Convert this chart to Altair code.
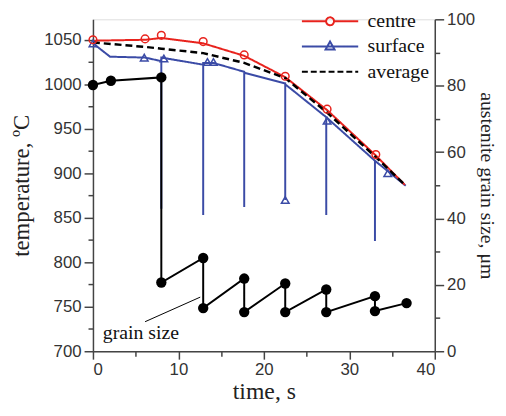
import altair as alt
import pandas as pd

# ---------------- data ----------------
series_names = ["centre", "surface", "average"]
series_colors = ["#e8231d", "#3b4ba6", "#000000"]

centre_t = [0, 6.1, 8.0, 12.9, 17.7, 22.5, 27.4, 33.1, 36.5]
centre_T = [1049, 1050, 1052, 1046, 1032, 1008, 971, 920, 887]
centre_mk_t = [0, 6.1, 8.0, 12.9, 17.7, 22.5, 27.4, 33.1]
centre_mk_T = [1050, 1051, 1055, 1048, 1033, 1009, 972, 921]

surface_t = [0, 2.0, 6.1, 8.0, 8.0, 8.0, 12.9, 12.9, 12.9, 14.1, 17.7, 17.7, 17.7,
             22.5, 22.5, 22.5, 27.3, 27.3, 27.3, 33.0, 33.0, 33.0, 36.6]
surface_T = [1046, 1031, 1030, 1026, 860, 1030, 1022, 853, 1024, 1024, 1014, 862, 1013,
             1001, 870, 1000, 963, 853, 963, 914, 824, 914, 886]
surface_mk_t = [0, 6.0, 8.3, 13.4, 14.1, 22.5, 27.4, 34.5]
surface_mk_T = [1046, 1030, 1029, 1025, 1025, 870, 959, 900]

average_t = [0, 6.1, 8.0, 12.9, 17.7, 22.5, 27.3, 33.0, 36.6]
average_T = [1047, 1042, 1040, 1035, 1024, 1007, 969, 919, 886]

grain_t = [0, 2.1, 8.0, 8.0, 12.9, 12.9, 17.7, 17.7, 22.5, 22.5, 27.3, 27.3, 33.0, 33.0, 36.7]
grain_g = [80.2, 81.5, 82.5, 20.7, 28.1, 13.0, 21.9, 11.8, 20.4, 11.8, 18.6, 11.8, 16.6, 12.1, 14.5]

label_text = ["grain size"]
label_t = [1.15]
label_g = [5.6]
pointer_t = [6.1, 12.55]
pointer_g = [8.9, 16.3]

time_ticks = [0, 5, 10, 15, 20, 25, 30, 35, 40]
temp_ticks = list(range(700, 1051, 25))
grain_ticks = list(range(0, 101, 10))

# ---------------- styling ----------------
SANS = "Liberation Sans"
SERIF = "Liberation Serif"
AX = dict(domainColor="#444", tickColor="#444", domainWidth=1.5, tickWidth=1.5,
          labelColor="#333", labelFont=SANS, labelFontSize=17, titleFont=SERIF,
          titleFontWeight="normal", titleColor="#222", grid=False, format="d")

x_enc = alt.X("t:Q", scale=alt.Scale(domain=[0, 40], nice=False),
              axis=alt.Axis(values=time_ticks, title="time, s", titleFontSize=24,
                            labelExpr="datum.value % 10 === 0 ? datum.label : ''",
                            tickSize={"condition": {"test": "datum.value % 10 === 0", "value": 8}, "value": 5},
                            labelPadding=3, titlePadding=2, **AX))
temp_axis = alt.Axis(values=temp_ticks, title="temperature, ºC", titleFontSize=23,
                     labelExpr="datum.value % 50 === 0 ? datum.label : ''",
                     tickSize={"condition": {"test": "datum.value % 50 === 0", "value": 9}, "value": 5},
                     labelPadding=3, titlePadding=10, **AX)
temp_scale = alt.Scale(domain=[700, 1073], nice=False, zero=False)
grain_axis = alt.Axis(orient="right", values=grain_ticks, title="austenite grain size, μm",
                      titleFontSize=20,
                      labelExpr="datum.value % 20 === 0 ? datum.label : ''",
                      tickSize={"condition": {"test": "datum.value % 20 === 0", "value": 9}, "value": 5},
                      labelPadding=3, titlePadding=2, **AX)
grain_scale = alt.Scale(domain=[0, 100], nice=False)

yT = alt.Y("T:Q", scale=temp_scale, axis=temp_axis)
yG = alt.Y("g:Q", scale=grain_scale, axis=grain_axis)


def df_of(t, v, name):
    return pd.DataFrame({"t": t, name: v, "i": list(range(len(t)))})


def temp_line(t, T, color, dash, width=2):
    return alt.Chart(df_of(t, T, "T")).mark_line(
        color=color, strokeWidth=width, strokeDash=dash).encode(x=x_enc, y=yT, order="i:Q")


def temp_marks(t, T, color, shape):
    return alt.Chart(df_of(t, T, "T")).mark_point(
        color=color, shape=shape, filled=False, size=60, strokeWidth=1.5, opacity=1
    ).encode(x=x_enc, y=yT)


surface_line = temp_line(surface_t, surface_T, series_colors[1], [1, 0])
centre_line = temp_line(centre_t, centre_T, series_colors[0], [1, 0])
average_line = temp_line(average_t, average_T, series_colors[2], [7, 4], 2.5)
surface_pts = temp_marks(surface_mk_t, surface_mk_T, series_colors[1], "triangle-up")
centre_pts = temp_marks(centre_mk_t, centre_mk_T, series_colors[0], "circle")

# legend (built from a scale on the series names)
legend_paths = [
    "M-2.85,0L-0.4,0M0.4,0L2.85,0M-0.4,0A0.4,0.4,0,1,0,0.4,0A0.4,0.4,0,1,0,-0.4,0",
    "M-2.85,0L2.85,0M0,-0.5L0.45,0.3L-0.45,0.3Z",
    "M-2.85,0L2.85,0",
]
legend_dashes = [[1, 0], [1, 0], [6, 3]]
leg = alt.Legend(title=None, orient="none", legendX=229, legendY=-9, symbolSize=400,
                 symbolStrokeWidth=2, labelFont=SERIF, labelFontSize=20, labelColor="#111",
                 labelOffset=27, rowPadding=4.5, padding=0)
legend_layer = alt.Chart(pd.DataFrame({"series": series_names})).mark_point(
    filled=False, size=400, strokeWidth=2, opacity=1
).encode(
    shape=alt.Shape("series:N", scale=alt.Scale(domain=series_names, range=legend_paths), legend=leg),
    color=alt.Color("series:N", scale=alt.Scale(domain=series_names, range=series_colors), legend=leg),
    strokeDash=alt.StrokeDash("series:N", scale=alt.Scale(domain=series_names, range=legend_dashes), legend=leg),
).transform_filter("false")

temp_layer = alt.layer(surface_line, centre_line, average_line, surface_pts, centre_pts, legend_layer)

gdf = df_of(grain_t, grain_g, "g")
grain_line = alt.Chart(gdf).mark_line(color="black", strokeWidth=2).encode(x=x_enc, y=yG, order="i:Q")
grain_pts = alt.Chart(gdf).mark_circle(color="black", size=110, opacity=1).encode(x=x_enc, y=yG)
pointer = alt.Chart(df_of(pointer_t, pointer_g, "g")).mark_line(color="black", strokeWidth=1).encode(
    x=x_enc, y=yG, order="i:Q")
label = alt.Chart(pd.DataFrame({"t": label_t, "g": label_g, "txt": label_text})).mark_text(
    align="left", baseline="middle", font=SERIF, fontSize=20, color="#111"
).encode(x=x_enc, y=yG, text="txt:N")
grain_layer = alt.layer(grain_line, grain_pts, pointer, label)

chart = alt.layer(temp_layer, grain_layer).resolve_scale(y="independent").properties(
    width=496, height=400,
    autosize=alt.AutoSizeParams(type="fit", contains="padding"),
    padding={"left": 3, "right": 1, "top": 0, "bottom": 2},
).configure_view(strokeWidth=0).configure(background="white")

chart.save("out.html", embed_options={"renderer": "svg", "actions": False})
